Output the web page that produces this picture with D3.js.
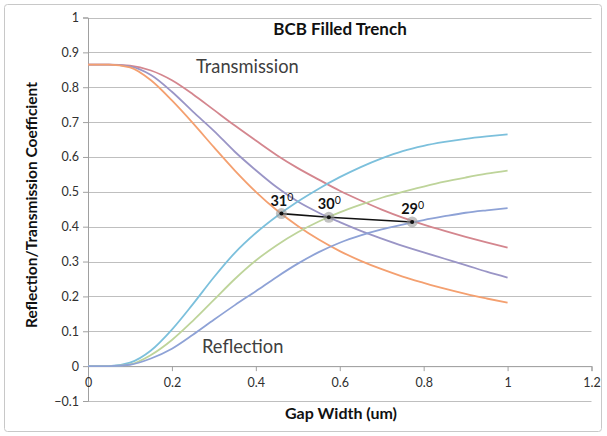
<!DOCTYPE html>
<html>
<head>
<meta charset="utf-8">
<script src="https://cdn.jsdelivr.net/npm/d3@7"></script>
<style>
  html, body { margin: 0; padding: 0; background: #fff; }
  svg { display: block; font-family: Lato, "Open Sans", sans-serif; }
</style>
</head>
<body>
<svg id="chart" width="607" height="436"></svg>
<script>
// ---------- data ----------
const gapWidth = [0, 0.05, 0.1, 0.15, 0.2, 0.25, 0.3, 0.35, 0.4, 0.45, 0.5, 0.55, 0.6, 0.65, 0.7, 0.75, 0.8, 0.85, 0.9, 0.95, 1.0];

// Transmission curves
const trans29 = [0.865, 0.865, 0.862, 0.848, 0.82, 0.78, 0.735, 0.69, 0.647, 0.605, 0.568, 0.535, 0.503, 0.475, 0.449, 0.426, 0.406, 0.388, 0.371, 0.355, 0.34];
const trans30 = [0.865, 0.865, 0.86, 0.835, 0.787, 0.73, 0.675, 0.615, 0.562, 0.513, 0.472, 0.44, 0.413, 0.388, 0.366, 0.345, 0.326, 0.308, 0.29, 0.271, 0.254];
const trans31 = [0.865, 0.865, 0.857, 0.82, 0.762, 0.697, 0.628, 0.561, 0.5, 0.447, 0.402, 0.363, 0.33, 0.302, 0.278, 0.257, 0.239, 0.222, 0.207, 0.194, 0.182];

// Reflection curves
const refl31 = [0, 0, 0.01, 0.045, 0.105, 0.178, 0.255, 0.325, 0.382, 0.43, 0.472, 0.509, 0.542, 0.571, 0.596, 0.617, 0.632, 0.643, 0.652, 0.659, 0.665];
const refl30 = [0, 0, 0.005, 0.032, 0.075, 0.13, 0.19, 0.25, 0.303, 0.347, 0.384, 0.415, 0.441, 0.463, 0.483, 0.5, 0.515, 0.529, 0.541, 0.552, 0.561];
const refl29 = [0, 0, 0.004, 0.022, 0.05, 0.09, 0.133, 0.175, 0.215, 0.256, 0.294, 0.327, 0.354, 0.375, 0.392, 0.406, 0.419, 0.43, 0.44, 0.447, 0.453];

// crossing points (equal reflection/transmission)
const crossAngle = ["31", "30", "29"];
const crossX = [0.461, 0.574, 0.7725];
const crossY = [0.4375, 0.427, 0.4135];

const xTicks = [0, 0.2, 0.4, 0.6, 0.8, 1, 1.2];
const yTicks = [-0.1, 0, 0.1, 0.2, 0.3, 0.4, 0.5, 0.6, 0.7, 0.8, 0.9, 1];

const title = "BCB Filled Trench";
const xTitle = "Gap Width (um)";
const yTitle = "Reflection/Transmission Coefficient";

// ---------- chart ----------
const svg = d3.select("#chart");
const x = d3.scaleLinear().domain([0, 1.2]).range([88, 591.5]);
const y = d3.scaleLinear().domain([-0.1, 1]).range([401, 17.5]);

// outer border
svg.append("rect").attr("x", 4.5).attr("y", 4.5).attr("width", 597).attr("height", 427)
  .attr("rx", 3).attr("fill", "#fff").attr("stroke", "#c8c8c8").attr("stroke-width", 1);

// gridlines
svg.append("g").selectAll("line").data(yTicks).join("line")
  .attr("x1", x(0)).attr("x2", x(1.2))
  .attr("y1", d => Math.round(y(d)) + 0.5).attr("y2", d => Math.round(y(d)) + 0.5)
  .attr("stroke", "#bfbfbf").attr("stroke-width", 1.2);

// y axis
const yAxis = d3.axisLeft(y).tickValues(yTicks).tickSize(5).tickFormat(d3.format("~g"));
const gy = svg.append("g").attr("transform", `translate(${x(0)},0)`).call(yAxis);
gy.select(".domain").attr("stroke", "#a0a0a0");
gy.selectAll(".tick line").attr("stroke", "#a0a0a0");
gy.selectAll(".tick text").attr("x", -9).attr("fill", "#303030")
  .style("font-size", "12.5px").style("font-family", "Lato, sans-serif");

// x axis (at y = 0)
const xAxis = d3.axisBottom(x).tickValues(xTicks).tickSize(5).tickFormat(d3.format("~g"));
const gx = svg.append("g").attr("transform", `translate(0,${y(0)})`).call(xAxis);
gx.select(".domain").attr("stroke", "#a0a0a0");
gx.selectAll(".tick line").attr("stroke", "#a0a0a0");
gx.selectAll(".tick text").attr("y", 12).attr("fill", "#303030")
  .style("font-size", "12.5px").style("font-family", "Lato, sans-serif");

// curves
const series = [
  { v: trans29, c: "#d4868e" },
  { v: trans30, c: "#9a95c6" },
  { v: trans31, c: "#f4a070" },
  { v: refl31, c: "#7cc0dc" },
  { v: refl30, c: "#bed49a" },
  { v: refl29, c: "#8ea2d6" }
];
const line = d3.line().x((d, i) => x(gapWidth[i])).y(d => y(d)).curve(d3.curveMonotoneX);
svg.append("g").selectAll("path").data(series).join("path")
  .attr("d", s => line(s.v)).attr("fill", "none")
  .attr("stroke", s => s.c).attr("stroke-width", 1.8);

// crossing annotation
const pts = crossX.map((cx, i) => [cx, crossY[i]]);
svg.append("path").attr("d", d3.line().x(d => x(d[0])).y(d => y(d[1]))(pts))
  .attr("fill", "none").attr("stroke", "#111").attr("stroke-width", 1.6);
svg.append("g").selectAll("circle").data(pts).join("circle")
  .attr("cx", d => x(d[0])).attr("cy", d => y(d[1])).attr("r", 5.5)
  .attr("fill", "#9a9a9a").attr("fill-opacity", 0.6);
svg.append("g").selectAll("circle").data(pts).join("circle")
  .attr("cx", d => x(d[0])).attr("cy", d => y(d[1])).attr("r", 2)
  .attr("fill", "#111");
const lab = svg.append("g").selectAll("text").data(crossAngle).join("text")
  .attr("x", (d, i) => x(crossX[i]) - 11)
  .attr("y", (d, i) => y(crossY[i]) - 8)
  .attr("fill", "#111").style("font-weight", "bold").style("font-size", "14.5px");
lab.append("tspan").text(d => d);
lab.append("tspan").attr("dy", -5).style("font-size", "10.5px").style("font-weight", "normal").text("0");

// texts
svg.append("text").attr("x", 340).attr("y", 35).attr("text-anchor", "middle")
  .style("font-weight", "bold").style("font-size", "17px").attr("fill", "#111").text(title);
svg.append("text").attr("x", 341).attr("y", 419).attr("text-anchor", "middle")
  .style("font-weight", "bold").style("font-size", "16px").attr("fill", "#111").text(xTitle);
svg.append("text").attr("transform", "translate(37,205) rotate(-90)").attr("text-anchor", "middle")
  .style("font-weight", "bold").style("font-size", "15.5px").attr("fill", "#111").text(yTitle);
svg.append("text").attr("x", 196).attr("y", 73)
  .style("font-size", "18.3px").attr("fill", "#404040").text("Transmission");
svg.append("text").attr("x", 202).attr("y", 353)
  .style("font-size", "18.3px").attr("fill", "#404040").text("Reflection");
</script>
</body>
</html>
